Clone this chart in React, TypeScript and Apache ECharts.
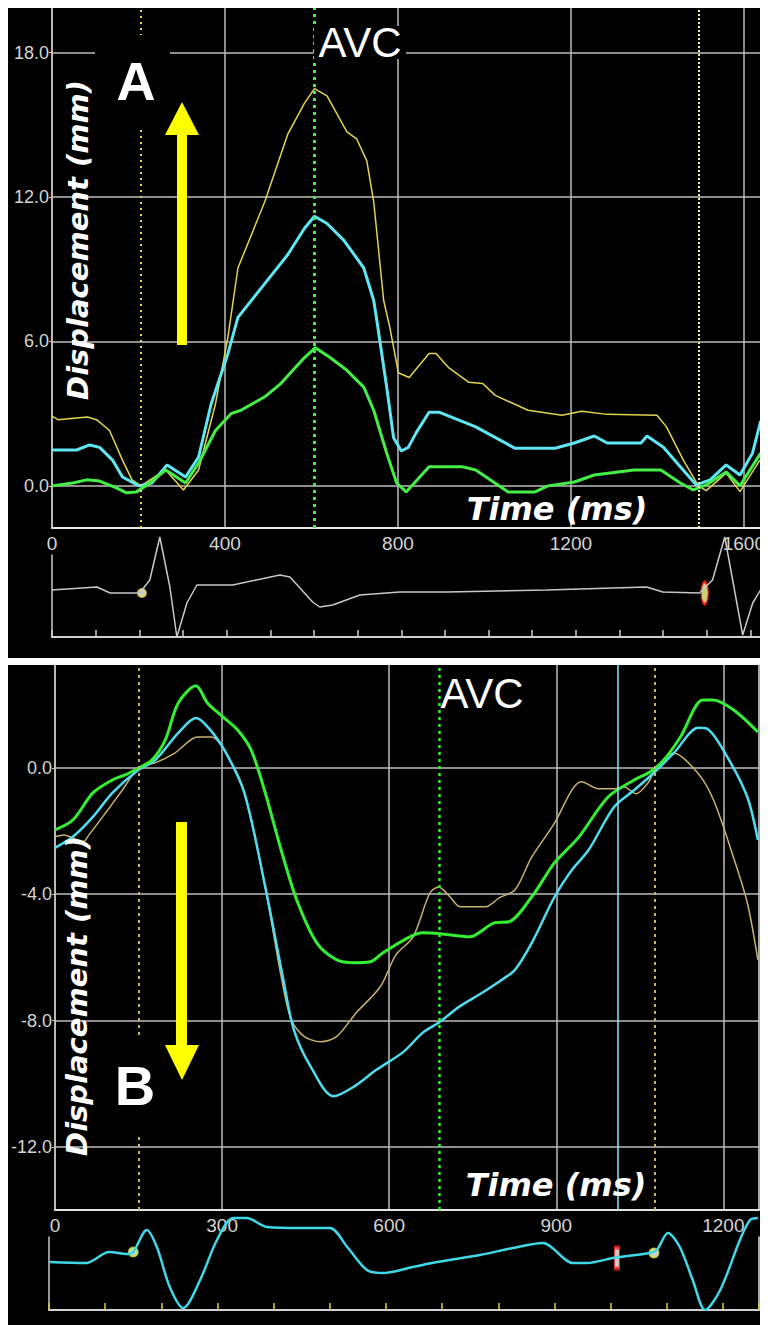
import React, { useEffect, useRef } from "react";
import * as echarts from "echarts";

// ---------- Panel A (upward displacement) ----------
const A_X_TICKS = [0, 400, 800, 1200, 1600];
const A_Y_TICKS = [0, 6, 12, 18];
const A_YELLOW: number[][] = [[0,2.9],[14,2.75],[82,2.86],[103,2.75],[133,2.3],[163,1.07],[185,0.25],[206,0.0],[240,0.4],[263,0.66],[304,-0.17],[339,0.66],[378,3.4],[407,6.2],[430,9.05],[492,11.8],[545,14.6],[584,15.9],[607,16.5],[636,16.2],[682,14.7],[705,14.4],[728,13.5],[744,11.8],[767,7.7],[781,6.6],[801,4.7],[826,4.5],[872,5.5],[888,5.5],[918,4.9],[964,4.3],[996,4.25],[1025,3.76],[1101,3.14],[1179,2.93],[1225,3.1],[1284,2.97],[1399,2.93],[1421,2.45],[1460,1.07],[1495,0.0],[1513,-0.2],[1559,0.53],[1591,-0.24],[1637,1.07]];
const A_CYAN: number[][] = [[0,1.49],[57,1.49],[87,1.7],[110,1.6],[140,1.07],[163,0.37],[201,0.0],[231,0.12],[266,0.87],[309,0.37],[339,1.2],[368,3.4],[407,5.5],[430,7.0],[492,8.4],[545,9.6],[584,10.7],[607,11.2],[636,10.9],[675,10.2],[721,9.05],[744,7.7],[751,6.9],[774,4.1],[790,2.0],[808,1.45],[824,1.6],[842,2.2],[872,3.06],[895,3.06],[980,2.45],[1071,1.56],[1163,1.56],[1208,1.78],[1254,2.07],[1284,1.78],[1362,1.78],[1376,2.07],[1414,1.6],[1453,0.79],[1490,0.04],[1522,0.25],[1559,0.87],[1591,0.45],[1620,1.36],[1639,2.7]];
const A_GREEN: number[][] = [[0,0],[48,0.12],[80,0.25],[110,0.2],[149,-0.08],[172,-0.29],[195,-0.25],[217,0],[263,0.66],[309,0.12],[339,0.95],[378,2.3],[414,3.0],[437,3.14],[492,3.7],[529,4.25],[584,5.33],[609,5.74],[643,5.33],[682,4.8],[721,4.1],[744,3.14],[774,1.36],[797,0.12],[819,-0.25],[872,0.79],[950,0.79],[980,0.66],[1055,-0.25],[1117,-0.25],[1147,0],[1208,0.16],[1254,0.45],[1346,0.66],[1408,0.66],[1453,0.12],[1483,-0.17],[1513,0.04],[1559,0.58],[1591,0],[1639,1.36]];
const A_ECG: number[][] = [[0,47],[103,50],[133,44],[201,44],[224,57],[247,100],[270,50],[286,0],[309,34],[332,52],[414,52],[522,62],[545,60],[597,35],[613,30],[643,32],[705,42],[797,45],[904,45],[1133,47],[1362,50],[1399,45],[1483,44],[1513,57],[1541,100],[1559,57],[1582,2],[1605,34],[1627,50],[1639,52]];
const A_ECG_DOT: number[][] = [[206, 44]];
const A_ECG_RED: number[][] = [[1495, 44]];
const A_EVENTS = { start: 206, avc: 607, end: 1495 };

// ---------- Panel B (downward displacement) ----------
const B_X_TICKS = [0, 300, 600, 900, 1200];
const B_Y_TICKS = [0, -4, -8, -12];
const B_GREEN: number[][] = [[0,-1.96],[32,-1.65],[68,-0.79],[103,-0.38],[126,-0.22],[150,0],[174,0.25],[198,0.89],[221,2.05],[253,2.6],[274,2.05],[304,1.58],[328,1.2],[352,0.57],[376,-0.7],[406,-2.6],[434,-4.18],[470,-5.54],[506,-6.08],[536,-6.17],[566,-6.14],[589,-5.85],[637,-5.35],[660,-5.22],[691,-5.25],[744,-5.35],[790,-4.9],[815,-4.87],[856,-4.08],[897,-3.0],[940,-2.2],[993,-0.92],[1040,-0.38],[1068,-0.13],[1093,0.25],[1123,0.98],[1163,2.15],[1182,2.15],[1218,1.84],[1262,1.14]];
const B_CYAN: number[][] = [[0,-2.53],[32,-2.18],[68,-1.55],[103,-0.79],[150,-0.06],[180,0.25],[221,1.1],[253,1.58],[274,1.3],[304,0.57],[340,-0.79],[376,-3.64],[411,-6.8],[429,-8.3],[459,-9.46],[500,-10.4],[536,-10.1],[577,-9.56],[625,-9.0],[660,-8.39],[691,-8.04],[726,-7.56],[767,-7.12],[803,-6.7],[826,-6.39],[856,-5.54],[897,-4.08],[928,-3.23],[958,-2.6],[1004,-1.23],[1040,-0.7],[1075,-0.16],[1111,0.47],[1155,1.27],[1171,1.24],[1207,0.35],[1243,-0.92],[1262,-2.28]];
const B_TAN: number[][] = [[0,-2.18],[16,-2.12],[50,-2.34],[61,-2.12],[91,-1.42],[121,-0.7],[150,0],[180,0.16],[215,0.47],[256,0.98],[281,0.98],[317,0.16],[340,-0.79],[376,-3.64],[406,-6.6],[424,-7.97],[447,-8.5],[477,-8.67],[506,-8.5],[541,-7.75],[584,-6.93],[612,-5.92],[643,-5.35],[673,-3.96],[689,-3.77],[709,-4.08],[728,-4.4],[773,-4.4],[798,-4.11],[826,-3.86],[856,-2.82],[897,-1.74],[928,-0.7],[945,-0.44],[976,-0.66],[1004,-0.66],[1022,-0.6],[1043,-0.82],[1065,-0.47],[1079,0],[1111,0.47],[1154,-0.16],[1182,-1.0],[1218,-2.82],[1243,-4.27],[1262,-6.08]];
const B_ECG: number[][] = [[0,48],[66,47],[107,58],[140,56],[150,58],[174,80],[192,63],[215,23],[239,2],[269,30],[299,70],[328,92],[352,92],[388,83],[447,82],[500,82],[531,63],[566,40],[595,37],[648,43],[691,48],[767,55],[826,62],[879,67],[933,47],[958,47],[1004,52],[1070,57],[1082,60],[1102,77],[1123,63],[1146,30],[1168,0],[1195,20],[1230,70],[1248,90],[1262,92]];
const B_ECG_DOTS: number[][] = [[150, 58], [1077, 57]];
const B_ECG_RED: number[][] = [[1011, 52]];
const B_EVENTS = { start: 150, avc: 689, cyan: 1011, end: 1077 };

const LABEL_FONT = '"Liberation Sans", Arial, sans-serif';
const GRID_COLOR = "#bdbdbd";

function mainX(grid: number, max: number, ticks: number[]) {
  return {
    type: "value", gridIndex: grid, min: 0, max,
    axisLine: { show: true, onZero: false, lineStyle: { color: "#e4e4e4", width: 2 } },
    axisTick: { show: false, customValues: ticks },
    axisLabel: { show: true, customValues: ticks, color: "#d4d4d4", fontSize: 19, fontFamily: LABEL_FONT, margin: 6,
      formatter: (v: number) => String(v) },
    splitLine: { show: true, lineStyle: { color: GRID_COLOR, width: 1.5 } },
  };
}
function mainY(grid: number, min: number, max: number, ticks: number[]) {
  return {
    type: "value", gridIndex: grid, min, max,
    axisLine: { show: true, onZero: false, lineStyle: { color: "#c8c8c8", width: 1.5 } },
    axisTick: { show: true, length: 3, customValues: ticks, lineStyle: { color: "#c8c8c8" } },
    axisLabel: { show: true, customValues: ticks, color: "#d4d4d4", fontSize: 18, fontFamily: LABEL_FONT, margin: 3,
      formatter: (v: number) => v.toFixed(1) },
    splitLine: { show: true, lineStyle: { color: GRID_COLOR, width: 1.5 } },
  };
}
function ecgX(grid: number, max: number, tickColor: string) {
  return {
    type: "value", gridIndex: grid, min: 0, max, interval: 100,
    axisLine: { show: true, onZero: false, lineStyle: { color: "#d0d0d0", width: 2 } },
    axisTick: { show: true, inside: true, length: 7, lineStyle: { color: tickColor, width: 1.5 } },
    axisLabel: { show: false }, splitLine: { show: false },
  };
}
function plainY(grid: number, min: number, max: number, position: string, color: string) {
  return {
    type: "value", gridIndex: grid, min, max, position,
    axisLine: { show: true, onZero: false, lineStyle: { color, width: 1.5 } },
    axisTick: { show: false }, axisLabel: { show: false }, splitLine: { show: false },
  };
}
function vLine(x: number, color: string, width: number, type: any) {
  return { xAxis: x, lineStyle: { color, width, type } };
}
function line(data: number[][], color: string, width: number, xi: number, yi: number, smooth: number, markLines?: any[]) {
  return {
    type: "line", data, xAxisIndex: xi, yAxisIndex: yi, symbol: "none", smooth,
    lineStyle: { color, width }, clip: false,
    markLine: markLines ? { symbol: ["none", "none"], silent: true, label: { show: false }, data: markLines } : undefined,
  };
}

export default function App() {
  const ref = useRef<HTMLDivElement>(null);
  useEffect(() => {
    if (!ref.current) return;
    const chart = echarts.init(ref.current, null, { renderer: "svg" });
    const txt = (x: number, y: number, text: string, font: string, extra: any = {}) => ({
      type: "text", x, y, z: 100, ...extra,
      style: { text, font, fill: "#ffffff", textAlign: "center", textVerticalAlign: "middle", align: "center", verticalAlign: "middle", ...(extra.style || {}) },
    });
    chart.setOption({
      animation: false,
      backgroundColor: "#ffffff",
      grid: [
        { left: 44, top: 0, width: 716, height: 520 },
        { left: 44, top: 547, width: 716, height: 82 },
        { left: 41, top: 657, width: 710, height: 545 },
        { left: 41, top: 1229, width: 710, height: 73 },
      ],
      xAxis: [
        mainX(0, 1640, A_X_TICKS),
        ecgX(1, 1640, "#d0d0d0"),
        mainX(2, 1264, B_X_TICKS),
        ecgX(3, 1264, "#d8d040"),
      ],
      yAxis: [
        mainY(0, -1.75, 19.85, A_Y_TICKS),
        plainY(1, 0, 82, "left", "#c8c8c8"),
        mainY(2, -14, 3.26, B_Y_TICKS),
        plainY(2, -14, 3.26, "right", "#e0e0e0"),
        plainY(3, 0, 73, "left", "#c8c8c8"),
        plainY(3, 0, 73, "right", "#e0e0e0"),
      ],
      series: [
        line(A_YELLOW, "#e0d450", 1.5, 0, 0, 0, [
          vLine(A_EVENTS.start, "#e0d860", 2, [2, 4]),
          vLine(A_EVENTS.end, "#f4f0a0", 2, [2, 2]),
        ]),
        line(A_CYAN, "#5ee6f2", 3, 0, 0, 0),
        line(A_GREEN, "#44ee44", 3, 0, 0, 0, [vLine(A_EVENTS.avc, "#44ee44", 3, [3, 4])]),
        line(A_ECG, "#c8c8c8", 1.5, 1, 1, 0, [
          [{ coord: [A_EVENTS.avc, 0] }, { coord: [A_EVENTS.avc, 100], lineStyle: { color: "#44dd44", width: 2, type: "solid" } }],
        ]),
        { type: "scatter", data: A_ECG_DOT, xAxisIndex: 1, yAxisIndex: 1, symbol: "circle", symbolSize: 8, clip: false,
          itemStyle: { color: "#ffffff", borderColor: "#e8e060", borderWidth: 2 } },
        { type: "scatter", data: A_ECG_RED, xAxisIndex: 1, yAxisIndex: 1, symbol: "circle", symbolSize: [7, 22], clip: false,
          itemStyle: { color: "#ffff90", borderColor: "#ff2020", borderWidth: 2 } },
        line(B_TAN, "#c9b26c", 1.5, 2, 2, 0.3, [
          vLine(B_EVENTS.start, "#c8b070", 2, [3, 4]),
          vLine(B_EVENTS.end, "#c8b070", 2, [3, 4]),
        ]),
        line(B_CYAN, "#4fdcf0", 2.5, 2, 2, 0.3, [vLine(B_EVENTS.cyan, "#88e4f2", 1.5, "solid")]),
        line(B_GREEN, "#33ee33", 3, 2, 2, 0.3, [vLine(B_EVENTS.avc, "#33ee33", 2.5, [3, 4])]),
        line(B_ECG, "#3fd8e8", 2.5, 3, 4, 0.3, [
          [{ coord: [B_EVENTS.avc, 0] }, { coord: [B_EVENTS.avc, 93], lineStyle: { color: "#33dd33", width: 2.5, type: "solid" } }],
        ]),
        { type: "scatter", data: [
            { value: B_ECG_DOTS[0], itemStyle: { color: "#ffffff", borderColor: "#b8f040", borderWidth: 2 } },
            { value: B_ECG_DOTS[1], itemStyle: { color: "#ffffff", borderColor: "#e8e040", borderWidth: 2 } },
          ], xAxisIndex: 3, yAxisIndex: 4, symbol: "circle", symbolSize: 9, clip: false },
        { type: "scatter", data: B_ECG_RED, xAxisIndex: 3, yAxisIndex: 4, symbol: "rect", symbolSize: [5, 21], clip: false,
          itemStyle: { color: "#ffffff", borderColor: "#ff2020", borderWidth: 2 } },
      ],
      graphic: [
        { type: "rect", z: -10, shape: { x: 0, y: 0, width: 760, height: 650 }, style: { fill: "#000" } },
        { type: "rect", z: -10, shape: { x: 0, y: 657, width: 760, height: 660 }, style: { fill: "#000" } },
        // panel A annotations
        { type: "rect", z: 90, shape: { x: 87, y: 27, width: 75, height: 92 }, style: { fill: "#000" } },
        txt(128, 73, "A", 'bold 54px "Liberation Sans", Arial, sans-serif'),
        { type: "rect", z: 90, shape: { x: 306, y: 18, width: 92, height: 33 }, style: { fill: "#000" } },
        txt(352, 34, "AVC", '42px "Liberation Sans", Arial, sans-serif'),
        { type: "rect", z: 95, shape: { x: 169, y: 127, width: 10, height: 210 }, style: { fill: "#ffff00" } },
        { type: "polygon", z: 95, shape: { points: [[157, 127], [191, 127], [174, 94]] }, style: { fill: "#ffff00" } },
        txt(70, 232, "Displacement (mm)", 'italic bold 29px "DejaVu Sans", Verdana, sans-serif', { rotation: Math.PI / 2 }),
        txt(549, 501, "Time (ms)", 'italic bold 32px "DejaVu Sans", Verdana, sans-serif'),
        // panel B annotations
        { type: "rect", z: 90, shape: { x: 92, y: 1030, width: 70, height: 95 }, style: { fill: "#000" } },
        txt(127, 1077, "B", 'bold 56px "Liberation Sans", Arial, sans-serif'),
        txt(474, 685, "AVC", '42px "Liberation Sans", Arial, sans-serif'),
        { type: "rect", z: 95, shape: { x: 168, y: 814, width: 11, height: 223 }, style: { fill: "#ffff00" } },
        { type: "polygon", z: 95, shape: { points: [[157, 1037], [191, 1037], [174, 1072]] }, style: { fill: "#ffff00" } },
        txt(69, 988, "Displacement (mm)", 'italic bold 29px "DejaVu Sans", Verdana, sans-serif', { rotation: Math.PI / 2 }),
        txt(548, 1177, "Time (ms)", 'italic bold 32px "DejaVu Sans", Verdana, sans-serif'),
      ],
    });
    return () => chart.dispose();
  }, []);
  return <div ref={ref} style={{ width: 760, height: 1317 }} />;
}
